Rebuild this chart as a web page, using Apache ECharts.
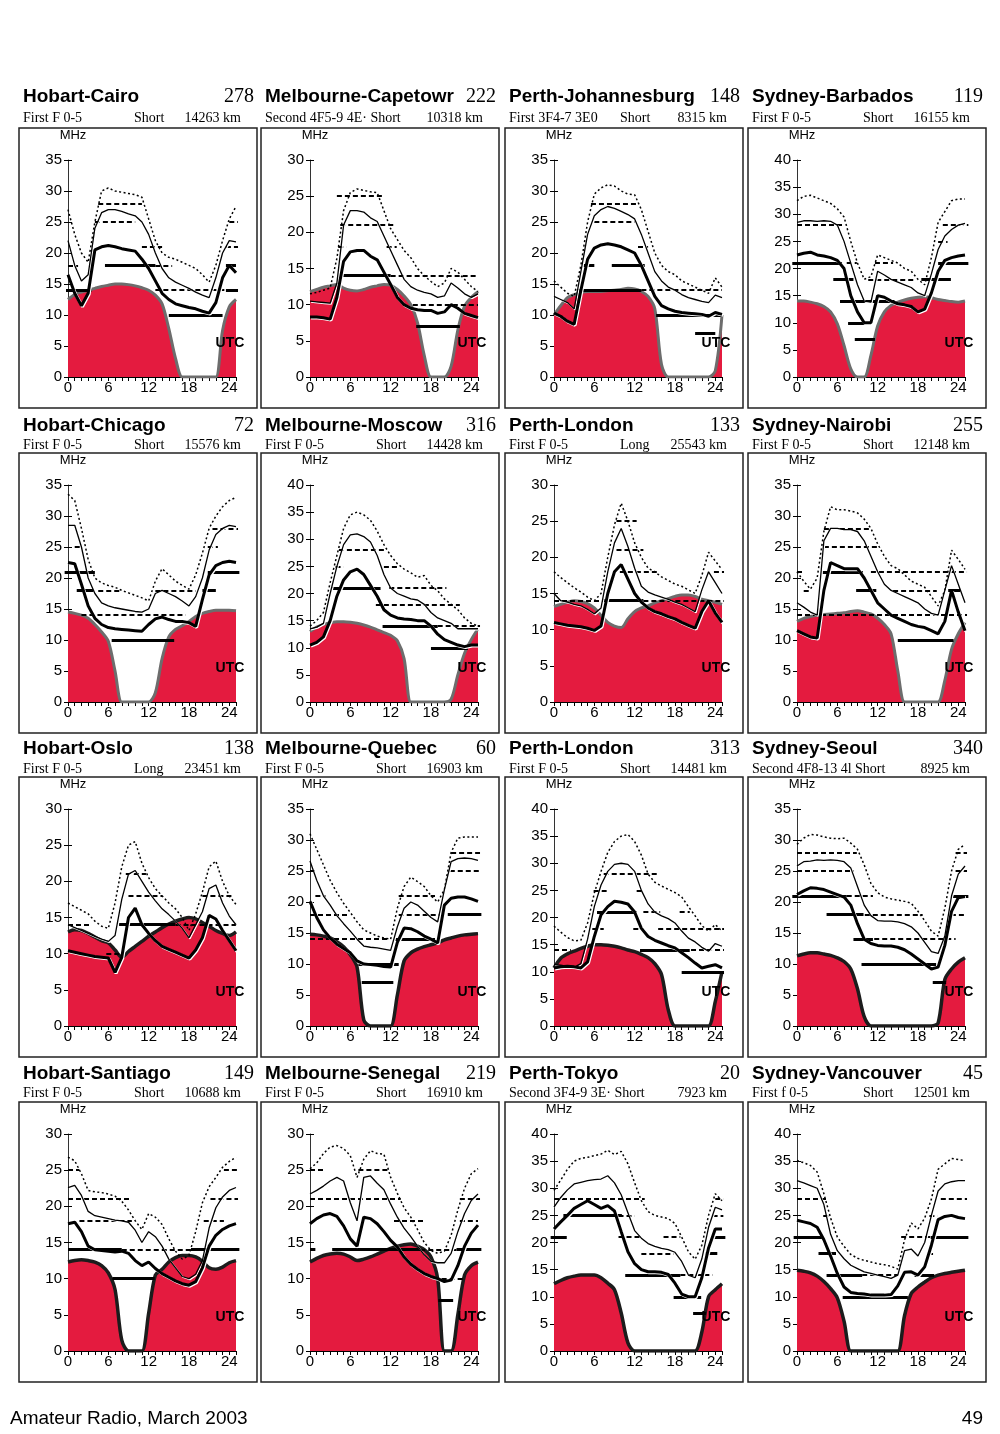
<!DOCTYPE html>
<html lang="en">
<head>
<meta charset="utf-8">
<title>HF path predictions</title>
<script src="https://cdn.jsdelivr.net/npm/echarts@6/dist/echarts.min.js"></script>
<style>
  html, body { margin: 0; padding: 0; background: #fff; }
  #page { width: 1000px; height: 1434px; }
</style>
</head>
<body>
<div id="page"></div>
<script>
// ---- data (hours 0..25 UTC, MHz) ----
var hours = [0,1,2,3,4,5,6,7,8,9,10,11,12,13,14,15,16,17,18,19,20,21,22,23,24,25];

var paths = ['Hobart-Cairo','Melbourne-Capetowr','Perth-Johannesburg','Sydney-Barbados',
             'Hobart-Chicago','Melbourne-Moscow','Perth-London','Sydney-Nairobi',
             'Hobart-Oslo','Melbourne-Quebec','Perth-London','Sydney-Seoul',
             'Hobart-Santiago','Melbourne-Senegal','Perth-Tokyo','Sydney-Vancouver'];
var pathNo = ['278','222','148','119','72','316','133','255','138','60','313','340','149','219','20','45'];
var modes = ['First F 0-5','Second 4F5-9 4E\u00b7 Short','First 3F4-7 3E0','First F 0-5',
             'First F 0-5','First F 0-5','First F 0-5','First F 0-5',
             'First F 0-5','First F 0-5','First F 0-5','Second 4F8-13 4l Short',
             'First F 0-5','First F 0-5','Second 3F4-9 3E\u00b7 Short','First f 0-5'];
var routes = ['Short','','Short','Short','Short','Short','Long','Short',
              'Long','Short','Short','','Short','Short','','Short'];
var dists = ['14263 km','10318 km','8315 km','16155 km','15576 km','14428 km','25543 km','12148 km',
             '23451 km','16903 km','14481 km','8925 km','10688 km','16910 km','7923 km','12501 km'];
var yMax = [35,30,35,40, 35,40,30,35, 30,35,40,35, 30,30,40,40];

// lowest usable frequency (red area)
var luf = [
  [12.5,13.3,13.7,14,14.3,14.6,14.8,15,15,14.9,14.7,14.4,14,13.2,11.8,7.8,3,0,0,0,0,0,0,7.5,11.3,12.5],
  [11.8,12.1,12.4,12.6,12.8,12.3,12,11.9,12.1,12.4,12.6,12.8,12.7,12.1,11.2,10,7.5,3,0,0,0,1.5,6.5,9.8,11,11.8],
  [10,11.5,12.8,13.3,13.6,13.8,13.8,13.8,13.9,14,14.1,14.3,14.2,13.8,13,11,2,0,0,0,0,0,0,0,1,10],
  [14,14,13.8,13.5,13,12,9.8,5.8,1.5,0,0,4,9.4,12,13.2,13.8,14.2,14.5,14.7,14.8,14.6,14.3,14.1,13.9,13.8,14],
  [14.5,14.3,14,13.5,12.5,11.3,9.8,5,0,0,0,0,0,1.5,7,10.5,11.7,12.3,13,13.8,14.3,14.6,14.8,14.8,14.8,14.7],
  [13,13.8,14.3,14.6,14.8,14.8,14.7,14.5,14.2,13.8,13.3,12.8,12.3,11.3,8,0,0,0,0,0,0,0.5,5,9,11.5,13.5],
  [13.2,13.5,13.8,14,13.9,13.6,13,12,11,10.5,10.3,11.5,12.5,13,13.3,13.7,14,14.3,14.6,14.8,14.8,14.6,14.2,14,13.8,13.5],
  [13,13.5,13.8,14,14.1,14.2,14.3,14.4,14.6,14.7,14.5,14.2,13.5,12.5,11,5,0,0,0,0,0,0,3.5,8.5,11,12.8],
  [13,13.3,13.2,12.8,12.3,11.8,11.5,10.5,9.5,10.3,11,11.7,12.4,13,13.6,14.1,14.5,14.8,15,14.8,14.3,13.8,13.2,12.8,12.5,13],
  [14.8,14.7,14.5,14.2,13.6,12.8,11.5,9.5,1,0,0,0,0,5,10.5,11.8,12.4,12.8,13.1,13.4,13.9,14.2,14.5,14.7,14.8,14.9],
  [10.7,12.5,13.3,13.8,14.3,14.7,15,15,14.9,14.7,14.4,14,13.7,13.2,12.6,11.5,9.5,3,0,0,0,0,0,0,4.5,10],
  [11.3,11.6,11.8,11.8,11.6,11.4,11,10.4,9.2,6,1.5,0,0,0,0,0,0,0,0,0,0,0.5,7.5,9.2,10.3,11],
  [12.3,12.5,12.6,12.5,12.3,11.8,10.8,8.5,1.5,0,0,0,5.2,10.5,11.3,12.3,12.9,13.2,13.2,13,12.4,11.5,11.3,11.6,12.2,12.5],
  [12.3,12.8,13.2,13.4,13.5,13.4,13,12.5,12.7,13,13.4,13.8,14.2,14.5,14.7,14.8,14.5,14,13,10,0,0,5,10.5,11.8,12.3],
  [12.4,13,13.5,13.8,14,14,14,13.5,12.5,11.3,7,1.5,0,0,0,0,0,0,0,0,0,0,3.5,10,11.3,12.4],
  [14.9,14.7,14.4,13.8,12.8,11.5,9.8,5.5,0,0,0,0,0,0,0,0,6.5,10.6,11.8,12.7,13.5,14,14.3,14.5,14.7,14.9]
];

// upper decile (dotted curve)
var upper = [
  [27,23,20,18.5,25,30,30.5,30,29.8,29.6,29.4,29,25.5,22,20,19.3,19,18.5,18,17.5,16.5,15.3,18,22,25.5,27.5],
  [11.5,11.7,12,12.3,16.4,23,25.5,26,25.8,25.6,25.5,23,20.5,19,17.5,16.5,15,14,13.2,12.5,13,15,14.5,13.5,12.5,11.8],
  [15.5,14.5,13.5,13,18,25,29.5,30.5,31,30.8,30,29.5,29.4,27,23.5,20,18,17,16.5,15.5,15,14.5,14,13.5,16,14.5],
  [32.5,33.3,33.5,33,32.5,32,31,29.5,25,21,18,18.5,22.5,22,21.5,21,20,19.5,18,17,22,28.5,30.5,32.5,32.8,32.8],
  [33.5,32.5,28,23,20,19.2,18.8,18.5,18,17.6,17.2,16.8,16.3,19.5,21.5,20.5,19.5,18.8,18.2,20.5,24,28,30,31.5,32.5,33],
  [14,15,16.5,22,27,32,34.5,35,34.5,33.5,31.5,29,27,25.5,24.5,23.8,23,23.3,21.5,20.5,19,18,17,15.5,14.5,14],
  [18,17.2,16.5,15.8,15.2,14.5,14,15,20,24.5,27.5,25,22,20,18.5,18,17.3,16.8,16.3,16,15.5,15,17.5,20.7,19.5,18.3],
  [21,19.5,18.2,20,27.5,31.5,31,31,30.8,30.5,29.5,28,25.5,23.5,22,21.5,20.5,19.5,19,18.5,17,15.5,18,24.5,23,21.4],
  [17,16.5,16,15.5,14.5,13.8,13.5,17,22,25,25.5,22.5,20.5,19,18,17,16.2,15,13.2,15.5,18.5,22,22.8,20,18,16.8],
  [31,28.5,26,23.5,21.5,19.8,18.3,16.8,15.5,15,14.5,14.2,14,19,22.5,24,23.3,22.5,21,20,22,28,30.3,30.5,30.5,30.5],
  [18.4,17.3,16.3,15.7,15.8,19,24.5,28.5,32,34,35,35.3,34,31.5,28,26.5,25.8,25.2,24.6,23.8,22,20.3,18.5,17.5,18.7,17.5],
  [29.3,30.3,30.9,30.8,30.5,30.3,30.2,30.3,29.5,28.5,26,23,21.5,20.8,20.5,20.3,20.1,19.8,18.5,17,15.3,14.5,19,25,28.5,29.3],
  [26.8,26.3,24.5,22.2,22,21.9,21.7,21.4,20.7,19.5,18,16.8,19,18.5,17.5,15.5,13.8,12.7,13.2,16.5,20.5,22.7,24,25.4,26.2,26.8],
  [25.2,26,27.3,28.2,28.4,28,27,24,26.5,27.7,27.3,27.2,24,21.8,19.8,18.5,16.8,15,13.9,13.5,13.8,16,19.5,22.5,24.5,25.2],
  [29.6,31.5,33.5,35,35.5,35.7,36,36.3,37,36.2,36.8,34.5,31,27.7,25.7,25,24.7,24.4,23.5,21,18.3,16.9,19.5,25,29,27.7],
  [35.1,34.7,34.2,33,29,24.5,21,19.3,17.8,17.1,16.7,16.4,16.1,15.9,15.6,15.1,20.5,23.6,22.5,24.5,28,33.5,34.5,35.5,35.3,35.1]
];

// median MUF (thin solid curve)
var median = [
  [22,18,15.5,16.5,24,26.5,27,27,26.7,26.3,26,25,23,20,17.5,16,15.3,14.8,14.3,13.7,13.2,12.8,16,20,22,21.8],
  [10.5,10.4,10.3,10.2,13,21,23,23,22.8,22,21.5,19.5,17.5,15.5,13.5,12.5,12,11.7,11.5,11,11.2,13,12.3,11.5,11,11.5],
  [13,12.5,12,11,17,23,26,27,27.5,27.2,26.7,26.2,25.5,23,20,17,15.5,14.5,14,13.3,12.8,12.5,12.2,12,13.2,12.8],
  [28.5,28.8,28.8,28.7,28.8,28.7,28,25,21,17,14,13.8,19.5,18.8,18,17.5,17,16.5,15.5,15,19,23.5,26,27.2,28,28.3],
  [28.5,28.5,25,20,17.5,16,15.5,15.2,15,14.8,14.6,14.5,15,17.5,18,17.5,17,16.3,15.5,17,20,24.5,27,28,28.5,28.3],
  [13.5,13.8,14.5,20,25,29,30.8,31,30.5,29.5,27,23.5,21,20,19.5,19,18.8,18,16.5,15.5,15,14.5,13.5,13.5,13.5,13.5],
  [15,14,13.8,13.5,13.3,12.8,12.2,13,18,22,24,21.5,18.5,16,15.2,14.8,14.5,14.2,13.8,13.5,13,12.5,15.5,18,16.5,15],
  [16,15.3,14.5,14,26,28,28,27.8,27.8,27.5,26,23.5,21,19,18,17.5,17,16.5,16,15,14.3,14,18,22,19,16],
  [14,13.6,13.2,12.8,12.4,12,11.7,12.5,17.5,21,21.5,20,18.5,17.3,16.2,15.4,14.5,13.5,12.2,14,15.8,19,19.5,17,15.2,14],
  [26.6,23.5,21,19.5,17.8,16.5,15.3,14,12.9,12.7,12.6,12.4,12.2,16,19,20,19.5,18.5,17.5,16.8,22,26.5,27,27.1,27,26.7],
  [11.3,11.2,11,10.8,11.5,16,22,26,28.5,29.8,30,29.8,28.5,25,22.5,21,20.3,19.8,19,17.5,16.2,15.5,14.5,13.8,15.2,14.7],
  [25.8,26.5,26.6,26.8,26.7,26.8,26.7,26.5,25.5,22.5,19.5,17.8,17,16.9,16.9,16.8,16.5,16,15,13.5,12,11.7,14.5,21,24.5,25.8],
  [22.6,22.9,21.5,19.3,18.7,18.5,18.3,18.1,18,17.8,16.7,15,16.5,15.8,14.5,12.7,11.5,10.3,10,10.6,12.5,17,19.8,21.3,22.2,22.6],
  [21.7,22.2,22.8,23.5,24,23.5,20.5,18,24,24.2,23.2,22.3,20.3,18.5,17,15.8,14.5,13.3,12.4,12.2,12.2,13.5,16.5,19,20.8,21.7],
  [26.5,28.3,29.7,30.8,31.1,31.4,31.6,31.7,32.3,31,28.8,25.5,22.2,20.8,19.8,19.3,18.9,18.7,18.2,16.5,14,13.5,17,22.8,26.5,26],
  [31.4,31,30.5,30,27,21.5,18.5,17,15.8,15.2,14.6,14.3,14,13.7,13.4,14,18.5,18.8,17.5,20,25,29.5,30.8,31.2,31.4,31.4]
];

// optimum working frequency (thick solid curve)
var optimum = [
  [16.5,13.5,11.5,13.5,20.5,21,21.2,21,20.7,20.5,20.3,19,17.5,15.5,13.5,12.5,11.8,11.5,11.2,11,10.6,10.3,12,16,18,16.8],
  [8.3,8.3,8.2,8,11,16,17.3,17.5,17.5,16.7,16.2,14.5,12.8,11,10,9.5,9.3,9.2,9.2,8.8,9,10,9.5,8.8,8.5,8.2],
  [10.3,9.8,9,8.5,14,19,20.8,21.3,21.5,21.3,21,20.5,20,18,15.5,13,11.5,11,10.6,10.4,10.3,10.2,10.1,9.8,10.4,10.1],
  [22.5,22.8,23,22.5,22.3,22,21.5,20,15,12,10,10,15,14.7,14,13.5,13.3,13,12,12.5,15.5,19.5,21.5,22,22.3,22.5],
  [22.5,22.3,19,15.5,13.5,12.5,12,11.8,11.7,11.6,11.5,11.4,12.5,13.4,13.7,13.3,13,13,12.8,12.2,16.5,20.5,22,22.5,22.7,22.5],
  [10.5,11,12,15,19.5,22.5,24,24.5,23.5,21.5,19.5,17,16,15.5,15.3,15.2,15,15,14,12.5,11.5,11,10.5,10.2,10.5,10.5],
  [11,10.8,10.6,10.5,10.4,10.2,9.9,10.5,15,18,19,17,15,13.8,13,12.5,12.2,11.8,11.5,11,10.6,10.2,12.5,14,12.3,11],
  [11.5,11,10.5,10.3,18,22.5,22,21.5,21.5,21.5,20,18,16,15,14,13.5,13,12.5,12.2,12,11.5,11,13,18,14.5,11.5],
  [10.4,10.2,10,9.8,9.6,9.5,9.4,7.4,9.5,15,16.3,14,12.8,11.8,11,10.6,10.2,9.8,9.4,10.5,12.2,15.3,14.8,13.2,11.8,10.4],
  [20.1,17.5,15.5,14.2,13.2,12.5,11.8,10.5,10,9.9,9.8,9.6,9.5,13.5,15.8,15.7,15.2,14.5,14,13.4,19.5,20.6,20.8,20.8,20.5,20.1],
  [10.7,10.9,11,10.9,10.7,11.8,16.5,20.5,22,23,22.8,22.5,21,18,16.5,15.8,15.3,14.8,14.4,13.5,12.6,11.6,10.7,11,11.3,10.7],
  [21.2,21.8,22.3,22.2,22,21.6,21.2,20.8,19.5,16.5,14,13.3,13,12.9,12.9,12.7,12.3,11.6,10.8,10,9.2,9.5,13,18.5,20.7,20.9],
  [17.6,17.8,16.5,14.5,14,13.9,13.8,13.7,13.8,13.5,12.5,11.8,12.3,11.4,10.7,10.2,9.7,9.3,9.1,9.6,11.5,14.5,16,16.8,17.3,17.6],
  [17.6,18.3,18.8,19,18.6,17.3,15.5,14.5,18.5,18.3,17.6,16.5,15.3,14.4,13,12,11.3,10.7,10.3,10,9.6,9.8,11.8,14.5,16.3,17.4],
  [22.5,23.8,25,26.3,27,27.7,27,26.3,26.8,25.8,22,18.3,16.1,15,14.6,14.6,14.5,14.1,12.5,10.5,10,10,13.5,19,22.5,22.5],
  [24.1,23.8,23.5,22.8,20.5,17.5,14.3,11.8,10.8,10.6,10.5,10.3,10.3,10.3,10.4,12,14.5,14.6,14,15.5,19.5,24.2,24.8,25,24.6,24.4]
];

// amateur band openings: [band MHz, from hour, to hour]
var dashBands = [
  [[28,4.5,11],[25,4,10],[25,24,25.3],[21,11,14],[21,23.5,25.3],[18,0,1.5],[18,13,15.5],[14,13,25.3]],
  [[25,4,11],[21,4.5,12.4],[18,4.2,5.4],[18,11.4,12.9],[14,12,25],[10,15.3,25]],
  [[28,5.5,12.3],[25,6,12],[21,12.5,14],[14,13,25]],
  [[28,0,6.9],[28,21.7,25.5],[25,21,22.4],[21,11.6,14.3],[21,7.4,8.9],[18,10.6,17.5]],
  [[28,21.5,25.3],[25,20.8,22.3],[25,1,2],[18,4.5,8],[18,13,19],[14,2,17.5]],
  [[28,4.3,11.3],[25,3.8,5],[25,11,13.3],[21,11.8,20.3],[18,9.8,22.3],[14,19,25.3]],
  [[25,9.3,12.3],[21,9.3,13.3],[18,9.8,15.3],[18,23.8,25.3],[14,0,7.3],[14,13.3,25.3]],
  [[28,4,10.8],[25,4,12.3],[21,0,0.8],[21,11,25.3],[18,1,2],[18,14.3,20.8],[14,0,25.3]],
  [[21,8.6,11.6],[18,9,14],[18,20,24.4],[14,0,3.2],[14,16,25.3],[10,5.7,8.1]],
  [[28,21,25.3],[25,0,0.8],[25,20.8,25.3],[21,0.8,2.3],[21,13.2,18.6],[18,0,5.8],[18,13.2,19.3],[14,0,11.7]],
  [[28,7.4,15.3],[25,5.9,7.9],[25,12.3,13.3],[21,13.3,15.8],[21,18.7,20.2],[18,15.5,25.3],[18,5.7,7.4],[18,11.8,13.3],[14,0,2.5],[14,19.2,25.3]],
  [[28,0,8.9],[28,23.6,25.3],[25,0,8.4],[25,23.6,25.3],[21,7.4,11.3],[18,8.9,18.7],[18,22.9,25.1],[14,10.3,23.6]],
  [[25,0,1.7],[25,23.2,25.3],[21,0,9.5],[21,21.2,25.3],[18,1.7,9.5],[18,20.2,23.2],[14,8,18.3]],
  [[25,0,2.3],[25,7.2,11.6],[21,0,13.5],[21,22.3,25.3],[18,12.5,16.9],[18,22.3,25],[14,16.4,21.8],[10,18.4,22.8]],
  [[28,0,13.5],[28,24,25.2],[25,9.6,12],[25,23.6,25.2],[21,9.6,13],[21,16.3,18.8],[18,13,17.8],[14,18.8,23.6]],
  [[28,0,4.6],[28,21.4,25.3],[25,3.9,4.9],[25,19.7,20.9],[21,15.5,20.4],[18,19.5,20.5],[14,9.7,15]]
];
var solidBands = [
  [[14,-0.3,3.5],[18,5.5,13],[18,23.5,25],[14,23.5,25.3],[10,15,23]],
  [[14,4.5,12],[7,15.8,22.3]],
  [[18,4.4,6],[18,8.6,13.5],[14,3.5,13],[10,15.2,25],[7,21,24]],
  [[21,-0.7,6.7],[21,21,25.5],[18,5.4,8.4],[18,18.5,22.9],[14,6.4,14.5],[10,7.6,10.8],[7,8.6,11.6]],
  [[21,-0.5,4],[21,20.8,25.5],[18,1.3,3.8],[18,20,22],[10,6.5,15.8]],
  [[21,3.3,10.5],[14,10.8,19],[10,18,23.5]],
  [[14,7.3,13.3]],
  [[21,3.8,9.8],[18,8.8,11.8],[18,22.5,24.3],[10,15,23.3]],
  [[14,7.6,16]],
  [[18,20.5,25.5],[14,12.7,18.6],[10,7.2,13.2],[7,7.7,12.4]],
  [[21,6.4,12.3],[14,12.8,20.2],[10,19,25.3]],
  [[21,-0.7,7.4],[21,23.2,25.5],[18,4.4,9.9],[14,8.4,11.3],[10,9.6,20.7],[7,20.2,22.2]],
  [[14,0,8],[14,18.3,25.5],[10,6.6,12.9]],
  [[14,0,0.8],[14,3.3,16.4],[14,21.8,25.5],[7,19.1,21.3]],
  [[25,1.4,10.1],[21,-0.5,1.9],[21,23.6,25.5],[18,22.6,24.3],[14,10.6,18.8],[10,17.8,21.9],[7,20.7,22.6]],
  [[21,-0.5,3.9],[21,19.9,25.5],[18,3.2,5.8],[14,4.4,9.7],[14,17.5,20.4],[10,6.8,16.5]]
];

// ---- page layout ----
var sans = "'Liberation Sans', Arial, sans-serif";
var serif = "'Liberation Serif', 'Times New Roman', serif";
var colLeft = [19, 261, 505, 748];
var rowTop = [128, 453, 777, 1102];
var titleY = [96.5, 425.5, 748.5, 1073.5];
var subY = [118, 445, 769, 1093];
var boxW = 238, boxH = 280;
var red = '#e41b3f';

function txt(x, y, s, size, family, weight, align) {
  return {
    type: 'text', silent: true, z: 100,
    style: {
      text: s, x: x, y: y, fill: '#000',
      fontSize: size, fontFamily: family, fontWeight: weight || 'normal',
      textAlign: align || 'left', align: align || 'left',
      textVerticalAlign: 'middle', verticalAlign: 'middle'
    }
  };
}

function points(arr) {
  return hours.map(function (h, k) { return [h, arr[k]]; });
}

function bandSeries(i, bands, style) {
  return {
    type: 'lines', coordinateSystem: 'cartesian2d',
    xAxisIndex: i, yAxisIndex: i, silent: true, clip: false, z: 3,
    lineStyle: style,
    data: bands.map(function (b) { return { coords: [[b[1], b[0]], [b[2], b[0]]] }; })
  };
}

var grids = [], xAxes = [], yAxes = [], series = [], graphics = [];
var n = paths.length;

paths.forEach(function (name, i) {
  var col = i % 4, row = Math.floor(i / 4);
  var bx = colLeft[col], by = rowTop[row];
  var gx = bx + 49, gy = by + 32, gw = 168, gh = 217;
  var edge = row < 2 ? '#6d6d6d' : '#1c1c1c';

  grids.push({ left: gx, top: gy, width: gw, height: gh });

  xAxes.push({
    gridIndex: i, type: 'value', min: 0, max: 25, interval: 1,
    axisLine: { show: true, onZero: false, lineStyle: { color: '#000', width: 1 } },
    axisTick: { show: true, length: 4, lineStyle: { color: '#000', width: 1 } },
    axisLabel: {
      margin: 3, color: '#000', fontSize: 15, fontFamily: sans,
      formatter: function (v) { return v % 6 === 0 ? String(v) : ''; }
    },
    splitLine: { show: false }
  });
  yAxes.push({
    gridIndex: i, type: 'value', min: 0, max: yMax[i], interval: 5,
    axisLine: { show: true, lineStyle: { color: '#333', width: 1 } },
    axisTick: { show: true, length: 4, lineStyle: { color: '#000', width: 1 } },
    axisLabel: { margin: 6, color: '#000', fontSize: 15, fontFamily: sans },
    splitLine: { show: false }
  });

  series.push({
    type: 'line', xAxisIndex: i, yAxisIndex: i, silent: true, z: 1,
    data: points(luf[i]), symbol: 'none', smooth: 0.3,
    lineStyle: { color: edge, width: row < 2 ? 3 : 3.5 },
    areaStyle: { color: red, opacity: 1 }
  });
  series.push(bandSeries(i, dashBands[i], { color: '#000', width: 2, type: [5, 3], opacity: 1 }));
  series.push(bandSeries(i, solidBands[i], { color: '#000', width: 3, type: 'solid', opacity: 1 }));
  series.push({
    type: 'line', xAxisIndex: i, yAxisIndex: i, silent: true, z: 4,
    data: points(upper[i]), symbol: 'none',
    lineStyle: { color: '#000', width: 1.5, type: [2, 2.5] }
  });
  series.push({
    type: 'line', xAxisIndex: i, yAxisIndex: i, silent: true, z: 4,
    data: points(median[i]), symbol: 'none',
    lineStyle: { color: '#000', width: 1.3, shadowColor: '#fff', shadowOffsetX: 1, shadowOffsetY: 1 }
  });
  series.push({
    type: 'line', xAxisIndex: i, yAxisIndex: i, silent: true, z: 5,
    data: points(optimum[i]), symbol: 'none',
    lineStyle: { color: '#000', width: 3, shadowColor: '#fff', shadowOffsetX: 1, shadowOffsetY: 1 }
  });

  // frame and texts
  graphics.push({
    type: 'rect', silent: true, z: 100,
    shape: { x: bx, y: by, width: boxW, height: boxH },
    style: { fill: null, stroke: '#222', lineWidth: 1.5 }
  });
  graphics.push(txt(bx + 4, titleY[row], name, 19, sans, 'bold', 'left'));
  graphics.push(txt(bx + boxW - 3, titleY[row], pathNo[i], 20, serif, 'normal', 'right'));
  graphics.push(txt(bx + 4, subY[row], modes[i], 14, serif, 'normal', 'left'));
  if (routes[i]) graphics.push(txt(bx + 115, subY[row], routes[i], 14, serif, 'normal', 'left'));
  graphics.push(txt(bx + boxW - 16, subY[row], dists[i], 14, serif, 'normal', 'right'));
  graphics.push(txt(gx + 5, by + 7, 'MHz', 13, sans, 'normal', 'center'));
  graphics.push(txt(gx + gw - 6, gy + gh - 34, 'UTC', 14, sans, 'bold', 'center'));
});

// second y axis per panel: inner half of the crossing ticks
paths.forEach(function (name, i) {
  yAxes.push({
    gridIndex: i, type: 'value', position: 'left', min: 0, max: yMax[i], interval: 5,
    axisLine: { show: false },
    axisTick: { show: true, inside: true, length: 4, lineStyle: { color: '#000', width: 1 } },
    axisLabel: { show: false },
    splitLine: { show: false }
  });
});

graphics.push(txt(10, 1419, 'Amateur Radio, March 2003', 19, sans, 'normal', 'left'));
graphics.push(txt(983, 1419, '49', 19, sans, 'normal', 'right'));

var chart = echarts.init(document.getElementById('page'), null, { renderer: 'canvas' });
chart.setOption({
  backgroundColor: '#fff',
  animation: false,
  grid: grids,
  xAxis: xAxes,
  yAxis: yAxes,
  series: series,
  graphic: graphics
});
</script>
</body>
</html>
